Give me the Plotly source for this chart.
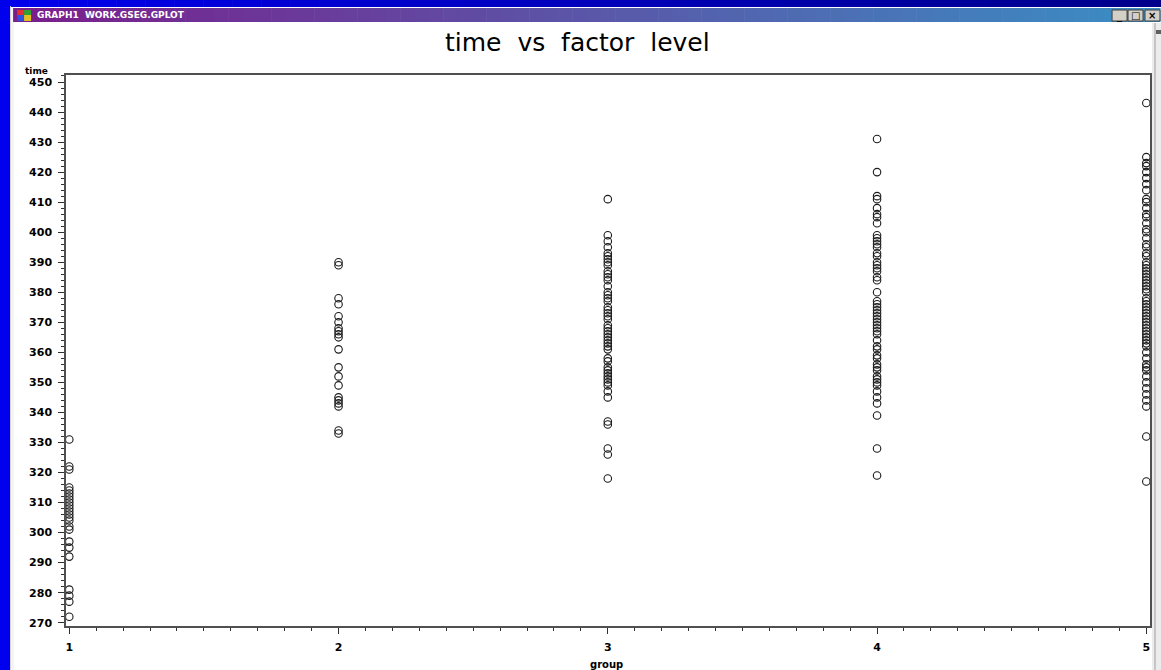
import plotly.graph_objects as go

# ---------------- data ----------------
groups = [1, 2, 3, 4, 5]
time_g1 = [331, 322, 321, 315, 314, 313, 312, 311, 310, 309, 308, 307, 306, 305, 304,
           302, 301, 297, 295, 292, 281, 279, 277, 272]
time_g2 = [390, 389, 378, 376, 372, 370, 368, 367, 366, 365, 361, 355, 352, 349, 345,
           344, 343, 342, 334, 333]
time_g3 = [411, 399, 397, 395, 393, 392, 391, 390, 389, 387, 386, 385, 384, 382, 380,
           379, 378, 377, 375, 374, 373, 372, 371, 369, 368, 367, 366, 365, 364, 363,
           362, 361, 358, 357, 355, 354, 353, 352, 351, 350, 349, 347, 345, 337, 336,
           328, 326, 318]
time_g4 = [431, 420, 412, 411, 408, 406, 405, 403, 399, 398, 397, 396, 395, 393, 392,
           390, 389, 388, 387, 385, 384, 380, 377, 376, 375, 374, 373, 372, 371, 370,
           369, 368, 367, 366, 364, 362, 361, 359, 358, 356, 355, 354, 352, 351, 350,
           349, 347, 345, 343, 339, 328, 319]
time_g5 = [443, 425, 423, 422, 420, 418, 416, 414, 411, 410, 408, 406, 405, 403, 401,
           400, 398, 396, 395, 393, 392, 390, 389, 388, 387, 386, 385, 384, 383, 382,
           381, 380, 378, 377, 376, 375, 374, 373, 372, 371, 370, 369, 368, 367, 366,
           365, 364, 363, 362, 360, 358, 356, 355, 354, 352, 350, 348, 346, 344, 342,
           332, 317]
all_times = [time_g1, time_g2, time_g3, time_g4, time_g5]
y_ticks = list(range(270, 451, 10))

xs, ys = [], []
for g, vals in zip(groups, all_times):
    xs += [g] * len(vals)
    ys += vals

# ---------------- geometry helpers ----------------
W, H = 1161, 670
ML, MT, MR, MB = 66, 75, 9, 44
PW, PH = W - ML - MR, H - MT - MB


def px(x):
    return (x - ML) / PW


def py(y):
    return 1 - (y - MT) / PH


def rect(x0, y0, x1, y1, color, line=None, layer="below"):
    return dict(type="rect", xref="paper", yref="paper",
                x0=px(x0), x1=px(x1), y0=py(y1), y1=py(y0),
                fillcolor=color, line=dict(width=0) if line is None else line,
                layer=layer)


def lerp(c1, c2, t):
    return "rgb(%d,%d,%d)" % tuple(round(a + (b - a) * t) for a, b in zip(c1, c2))


def gradient(x0, y0, x1, y1, c1, c2, n=60):
    out = []
    w = (x1 - x0) / n
    for i in range(n):
        out.append(rect(x0 + i * w, y0, x0 + (i + 1) * w + 0.6, y1, lerp(c1, c2, i / (n - 1))))
    return out


shapes = []
# desktop blue: left strip and top strip
shapes.append(rect(-5, -5, 10, H + 5, "#0000EE"))
shapes += gradient(0, -2, W + 2, 7, (0, 0, 235), (0, 0, 140), n=40)
# window frame
shapes.append(rect(10, 6, 11, H + 5, "#D4D0C8"))
shapes.append(rect(11, 7, 14, H + 5, "#F4F4F4"))
# title bar gradient
shapes += gradient(13, 8, W + 1, 22, (122, 30, 140), (58, 142, 196), n=80)
# right scroll strip
shapes.append(rect(1154, 23, W + 5, H + 5, "#ECECEC", layer="above"))
shapes.append(rect(1156.5, 23, 1157.5, H + 5, "#A0A0A0", layer="above"))
shapes.append(rect(1158, 30, W + 5, 34, "#606060", layer="above"))
# title bar buttons
for bx0, bx1 in [(1114, 1129), (1130, 1145), (1147, 1162)]:
    shapes.append(rect(bx0, 10, bx1, 21, "#D4D0C8",
                       line=dict(color="#404040", width=1)))
# icon
shapes.append(rect(17, 10, 24, 16, "#E03030"))
shapes.append(rect(24, 10, 31, 16, "#30A030"))
shapes.append(rect(17, 15, 24, 21, "#3050E0"))
shapes.append(rect(24, 15, 31, 21, "#E0C020"))

NB = "\u00a0\u00a0"
annotations = [
    dict(text="<b>GRAPH1  WORK.GSEG.GPLOT</b>", x=px(35), y=py(15), xref="paper", yref="paper",
         xanchor="left", yanchor="middle", showarrow=False,
         font=dict(family="DejaVu Sans", size=9, color="white")),
    dict(text="time" + NB + "vs" + NB + "factor" + NB + "level", x=px(713), y=py(42),
         xref="paper", yref="paper",
         xanchor="right", yanchor="middle", showarrow=False,
         font=dict(family="DejaVu Sans", size=25, color="black")),
    dict(text="<b>time</b>", x=px(36), y=py(71), xref="paper", yref="paper",
         xanchor="center", yanchor="middle", showarrow=False,
         font=dict(family="DejaVu Sans", size=9, color="black")),
    dict(text="<b>group</b>", x=px(607), y=py(664), xref="paper", yref="paper",
         xanchor="center", yanchor="middle", showarrow=False,
         font=dict(family="DejaVu Sans", size=10, color="black")),
]
for t, bx in [("_", 1121.5), ("□", 1137.5), ("×", 1154.5)]:
    annotations.append(dict(text="<b>%s</b>" % t, x=px(bx), y=py(15.5), xref="paper", yref="paper",
                            xanchor="center", yanchor="middle", showarrow=False,
                            font=dict(family="DejaVu Sans", size=10, color="black")))

fig = go.Figure()
fig.add_trace(go.Scatter(
    x=xs, y=ys, mode="markers", cliponaxis=False,
    marker=dict(symbol="circle-open", size=7.5, color="#1a1a1a", line=dict(width=1.1)),
    hoverinfo="x+y", showlegend=False,
))

axis_common = dict(showgrid=False, zeroline=False, showline=True, mirror=True,
                   linecolor="#505050", linewidth=1.5, ticks="outside",
                   tickcolor="#303030", tickwidth=1, ticklen=6,
                   tickfont=dict(family="DejaVu Sans", size=11, color="black", weight="bold"))

fig.update_layout(
    width=W, height=H,
    margin=dict(l=ML, r=MR, t=MT, b=MB, pad=0),
    paper_bgcolor="white", plot_bgcolor="white",
    shapes=shapes, annotations=annotations,
    xaxis=dict(range=[0.9878, 5.0137], tickmode="array", tickvals=groups,
               ticktext=[str(g) for g in groups],
               minor=dict(dtick=0.1, tick0=0, ticks="outside", ticklen=3,
                          tickcolor="#303030", tickwidth=1),
               ticklabelstandoff=4,
               **axis_common),
    yaxis=dict(range=[268.9, 452.33], tickmode="array", tickvals=y_ticks,
               ticktext=[str(v) for v in y_ticks],
               minor=dict(dtick=2, tick0=0, ticks="outside", ticklen=3,
                          tickcolor="#303030", tickwidth=1),
               ticklabelstandoff=4,
               **axis_common),
)

fig.write_html("out.html")
